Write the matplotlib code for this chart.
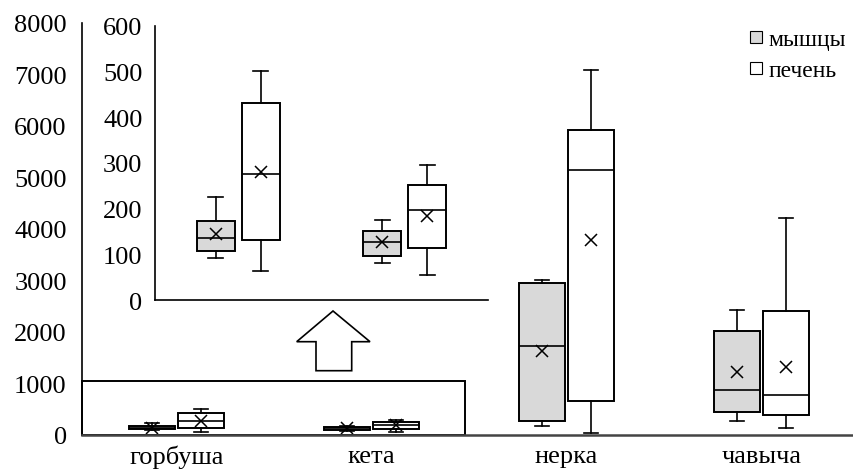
import numpy as np
import matplotlib
matplotlib.use("Agg")
import matplotlib.pyplot as plt
from matplotlib.patches import Rectangle, Polygon
from matplotlib.lines import Line2D

plt.rcParams['font.family'] = ['Liberation Serif', 'DejaVu Serif']

# species and tissues
species = ['горбуша', 'кета', 'нерка', 'чавыча']
tissues = ['мышцы', 'печень']

# box statistics per species (muscle / liver)
musc_lo  = [92, 80, 175, 272]
musc_q1  = [108, 96, 278, 453]
musc_med = [136, 128, 1734, 874]
musc_q3  = [172, 152, 2945, 2013]
musc_hi  = [225, 176, 3010, 2433]
musc_mean = [145, 128, 1630, 1217]

liv_lo  = [64, 55, 40, 130]
liv_q1  = [132, 113, 666, 388]
liv_med = [277, 197, 5146, 777]
liv_q3  = [432, 252, 5928, 2408]
liv_hi  = [501, 296, 7093, 4214]
liv_mean = [280, 185, 3793, 1314]

main_ticks = [0, 1000, 2000, 3000, 4000, 5000, 6000, 7000, 8000]
inset_ticks = [0, 100, 200, 300, 400, 500, 600]

box_fill = ['#d9d9d9', 'white']


def stats(lo, q1, med, q3, hi, mean, idx):
    return [dict(whislo=lo[i], q1=q1[i], med=med[i], q3=q3[i], whishi=hi[i],
                 mean=mean[i], fliers=[]) for i in idx]


def draw_boxes(ax, idx, off, width, capw):
    pos = np.arange(len(idx))
    series = [stats(musc_lo, musc_q1, musc_med, musc_q3, musc_hi, musc_mean, idx),
              stats(liv_lo, liv_q1, liv_med, liv_q3, liv_hi, liv_mean, idx)]
    for k, st in enumerate(series):
        p = pos + (k * 2 - 1) * off
        ax.bxp(st, positions=p, widths=width, capwidths=capw,
               patch_artist=True, showmeans=True, manage_ticks=False,
               boxprops=dict(facecolor=box_fill[k], edgecolor='black', linewidth=1.4),
               medianprops=dict(color='black', linewidth=1.2),
               whiskerprops=dict(color='black', linewidth=1.2),
               capprops=dict(color='black', linewidth=1.2),
               meanprops=dict(marker='x', markeredgecolor='black',
                              markersize=9, markeredgewidth=1.1))


fig = plt.figure(figsize=(8.54, 4.77), dpi=100)

# main axes
ax = fig.add_axes([82/854, 1-436/477, 1-82/854, (436-24)/477])
draw_boxes(ax, [0, 1, 2, 3], 0.126, 0.236, 0.07)
ax.set_xlim(-0.485, 3.474)
ax.set_ylim(0, 8000)
ax.set_yticks(main_ticks)
ax.set_xticks(np.arange(len(species)))
ax.set_xticklabels(species, fontsize=19)
ax.tick_params(axis='y', length=0, labelsize=19, pad=11)
ax.tick_params(axis='x', length=0, pad=7)
for s in ['top', 'right']:
    ax.spines[s].set_visible(False)
ax.spines['left'].set_linewidth(1.2)
ax.spines['bottom'].set_linewidth(1.8)
ax.spines['bottom'].set_color('#444444')

# frame around the small boxes
ax.add_patch(Rectangle((-0.485, 0), 1.964, 1050, fill=False,
                       edgecolor='black', linewidth=1.4, clip_on=False))

# arrow to inset
arr = [(316, 371.7), (351.7, 371.7), (351.7, 342.7), (370, 342.7),
       (333, 312), (296.7, 342.7), (316, 342.7)]
fig.patches.append(Polygon([(x/854, 1-y/477) for x, y in arr], closed=True,
                           facecolor='white', edgecolor='black', linewidth=1.2,
                           transform=fig.transFigure))

# inset axes
ins = fig.add_axes([155/854, 1-301/477, 333/854, (301-27)/477])
draw_boxes(ins, [0, 1], 0.135, 0.23, 0.09)
ins.set_xlim(-0.5, 1.5)
ins.set_ylim(0, 600)
ins.set_yticks(inset_ticks)
ins.set_xticks([])
ins.tick_params(axis='y', length=0, labelsize=19, pad=9)
for s in ['top', 'right']:
    ins.spines[s].set_visible(False)
ins.spines['left'].set_linewidth(1.2)
ins.spines['bottom'].set_linewidth(1.2)
ins.patch.set_alpha(0)

# legend
handles = [Line2D([], [], marker='s', linestyle='none', markersize=9,
                  markerfacecolor=box_fill[k], markeredgecolor='black',
                  markeredgewidth=0.8, label=tissues[k]) for k in range(2)]
ax.legend(handles=handles, loc='upper right', bbox_to_anchor=(1.005, 1.015),
          frameon=False, fontsize=17, handletextpad=0.15, handlelength=0.8,
          labelspacing=0.4, borderaxespad=0.1)

fig.savefig('out.png', dpi=100)
